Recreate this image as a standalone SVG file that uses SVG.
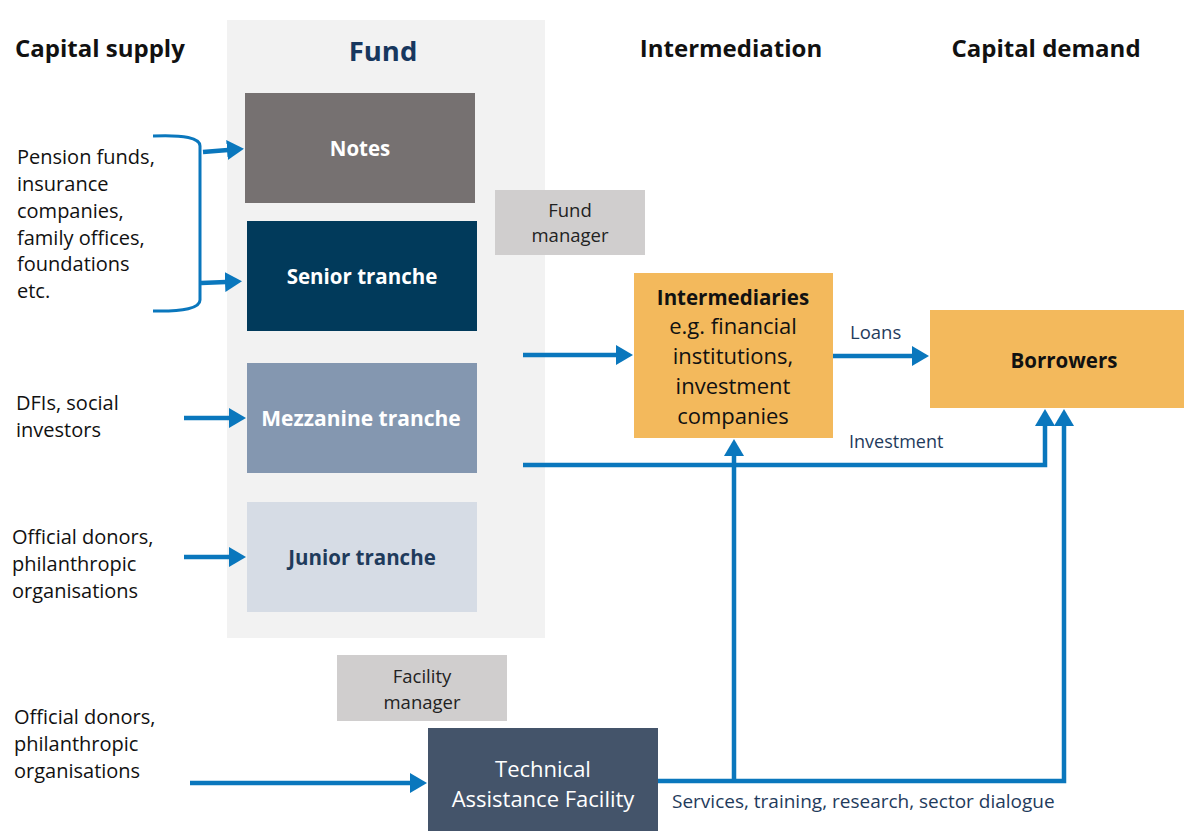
<svg xmlns="http://www.w3.org/2000/svg" width="1184" height="831" viewBox="0 0 1184 831">
<style>
text{font-family:"Open Sans","Liberation Sans",sans-serif;}
.h{font-size:24px;font-weight:bold;fill:#111;}
.lt{font-size:20px;fill:#111;}
.nb{font-size:20.5px;font-weight:bold;fill:#fff;text-anchor:middle;}
.c{text-anchor:middle;}
.mg{font-size:18.5px;fill:#222;text-anchor:middle;}
.lbl{font-size:18px;fill:#1f3b5c;}
.ln{fill:none;stroke:#0a77bd;stroke-width:4.5;}
</style>
<defs>
<marker id="ah" markerUnits="userSpaceOnUse" markerWidth="18" markerHeight="20" viewBox="0 0 18 20" refX="1" refY="10" orient="auto">
<path d="M0,0 L17,10 L0,20 Z" fill="#0a77bd"/>
</marker>
</defs>
<rect width="1184" height="831" fill="#fff"/>
<g id="headers">
<text class="h" x="15" y="57">Capital supply</text>
<text class="h c" x="731" y="57">Intermediation</text>
<text class="h c" x="1046" y="57">Capital demand</text>
</g>
<g id="fund">
<rect x="227" y="20" width="318" height="618" fill="#f2f2f2"/>
<text x="383" y="61" class="c" style="font-size:27.5px;font-weight:bold;fill:#17375e">Fund</text>
</g>
<g id="notes"><rect x="245" y="93" width="230" height="110" fill="#767171"/><text class="nb" x="360" y="156">Notes</text></g>
<g id="senior"><rect x="247" y="221" width="230" height="110" fill="#013a5b"/><text class="nb" x="362" y="284">Senior tranche</text></g>
<g id="mezzanine"><rect x="247" y="363" width="230" height="110" fill="#8497b0"/><text class="nb" x="361" y="426" style="font-size:21px">Mezzanine tranche</text></g>
<g id="junior"><rect x="247" y="502" width="230" height="110" fill="#d6dce5"/><text class="nb" x="362" y="565" style="fill:#1f3b5c">Junior tranche</text></g>
<g id="fund-manager"><rect x="495" y="190" width="150" height="65" fill="#d0cece"/><text class="mg" x="570" y="217">Fund</text><text class="mg" x="570" y="242">manager</text></g>
<g id="facility-manager"><rect x="337" y="655" width="170" height="66" fill="#d0cece"/><text class="mg" x="422" y="683">Facility</text><text class="mg" x="422" y="709">manager</text></g>
<g id="intermediaries"><rect x="634" y="273" width="199" height="165" fill="#f3b95c"/>
<text class="c" x="733" y="305" style="font-size:20.5px;font-weight:bold;fill:#111">Intermediaries</text>
<text class="c" x="733" y="334" style="font-size:22px;fill:#111">e.g. financial</text>
<text class="c" x="733" y="364" style="font-size:22px;fill:#111">institutions,</text>
<text class="c" x="733" y="394" style="font-size:22px;fill:#111">investment</text>
<text class="c" x="733" y="424" style="font-size:22px;fill:#111">companies</text>
</g>
<g id="borrowers"><rect x="930" y="310" width="254" height="98" fill="#f3b95c"/><text class="c" x="1064" y="368" style="font-size:20.5px;font-weight:bold;fill:#111">Borrowers</text></g>
<g id="ta-facility"><rect x="428" y="728" width="230" height="103" fill="#44546a"/>
<text class="c" x="543" y="777" style="font-size:22px;fill:#fff">Technical</text>
<text class="c" x="543" y="807" style="font-size:22px;fill:#fff">Assistance Facility</text>
</g>
<g id="sources">
<text class="lt" x="17" y="164">Pension funds,</text>
<text class="lt" x="17" y="191">insurance</text>
<text class="lt" x="17" y="218">companies,</text>
<text class="lt" x="17" y="245">family offices,</text>
<text class="lt" x="17" y="271">foundations</text>
<text class="lt" x="17" y="298">etc.</text>
<text class="lt" x="16" y="410">DFIs, social</text>
<text class="lt" x="16" y="437">investors</text>
<text class="lt" x="12" y="544">Official donors,</text>
<text class="lt" x="12" y="571">philanthropic</text>
<text class="lt" x="12" y="598">organisations</text>
<text class="lt" x="14" y="724">Official donors,</text>
<text class="lt" x="14" y="751">philanthropic</text>
<text class="lt" x="14" y="778">organisations</text>
</g>
<g id="connectors">
<path class="ln" style="stroke-width:3" d="M153,136 Q200,134 200,146 L200,300 Q200,312 153,311"/>
<path class="ln" d="M203,152 L228,150" marker-end="url(#ah)"/>
<path class="ln" d="M201,283 L226,282" marker-end="url(#ah)"/>
<path class="ln" d="M184,418 L230,418" marker-end="url(#ah)"/>
<path class="ln" d="M184,557 L230,557" marker-end="url(#ah)"/>
<path class="ln" d="M523,355 L617,355" marker-end="url(#ah)"/>
<path class="ln" d="M833,356 L913,356" marker-end="url(#ah)"/>
<path class="ln" d="M523,465 L1045,465 L1045,425" marker-end="url(#ah)"/>
<path class="ln" d="M190,783 L411,783" marker-end="url(#ah)"/>
<path class="ln" d="M658,781 L1064,781 L1064,425" marker-end="url(#ah)"/>
<path class="ln" d="M734,781 L734,455" marker-end="url(#ah)"/>
<text class="lbl" x="850" y="339" style="font-size:18.5px">Loans</text>
<text class="lbl" x="849" y="448">Investment</text>
<text class="lbl" x="672" y="808" style="font-size:19px">Services, training, research, sector dialogue</text>
</g>
</svg>
